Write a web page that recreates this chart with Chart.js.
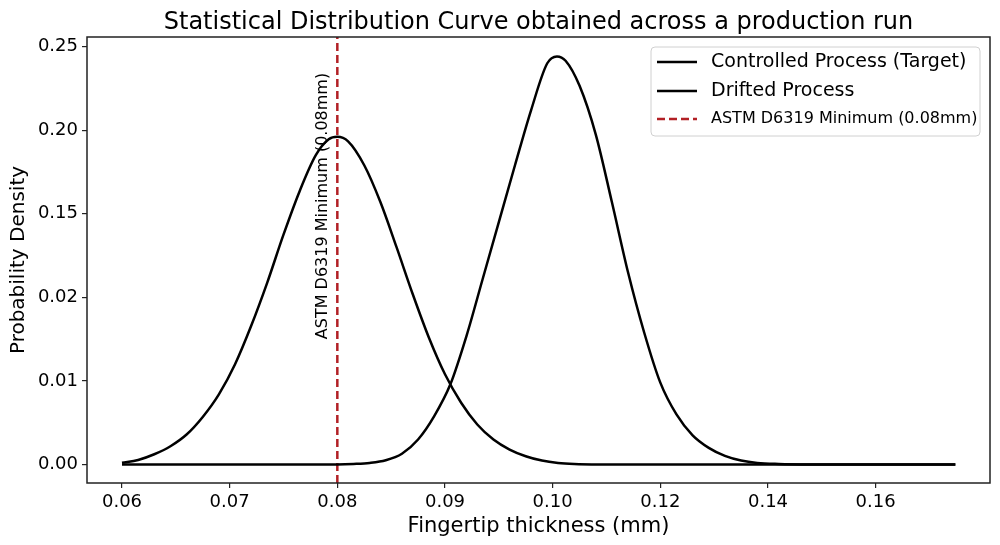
<!DOCTYPE html>
<html>
<head>
<meta charset="utf-8">
<script src="https://cdn.jsdelivr.net/npm/chart.js@4"></script>
<style>
  html, body { margin: 0; padding: 0; background: #fff; }
  canvas { display: block; }
</style>
</head>
<body>
<canvas id="grafico" width="1000" height="545"></canvas>
<script>
// textos
const titulo = 'Statistical Distribution Curve obtained across a production run';
const tituloX = 'Fingertip thickness (mm)';
const tituloY = 'Probability Density';
const rotulos = ['Controlled Process (Target)', 'Drifted Process', 'ASTM D6319 Minimum (0.08mm)'];
const textoLimite = 'ASTM D6319 Minimum (0.08mm)';

// ticks (posicao no eixo e o texto que aparece)
const xTicks = [0.06, 0.07, 0.08, 0.09, 0.10, 0.11, 0.12, 0.13];
const xTickLabels = ['0.06', '0.07', '0.08', '0.09', '0.10', '0.12', '0.14', '0.16'];
const yTicks = [0, 0.05, 0.10, 0.15, 0.20, 0.25];
const yTickLabels = ['0.00', '0.01', '0.02', '0.15', '0.20', '0.25'];
const xMin = 0.05675, xMax = 0.14062;
const yMin = -0.0110, yMax = 0.2557;

// limite ASTM
const limite = 0.08;

// processo controlado (curva da direita)
const ctrlX = [0.0600, 0.0700, 0.0760, 0.0800, 0.0815, 0.0830, 0.0845, 0.0860, 0.0875, 0.0890,
  0.0905, 0.0920, 0.0935, 0.0950, 0.0965, 0.0980, 0.0995, 0.1004, 0.1012, 0.1025,
  0.1040, 0.1055, 0.1070, 0.1085, 0.1100, 0.1115, 0.1130, 0.1145, 0.1160, 0.1175,
  0.1190, 0.1210, 0.1240, 0.1300, 0.1374];
const ctrlY = [0.0000, 0.0000, 0.0000, 0.0001, 0.0004, 0.0010, 0.0026, 0.0065, 0.0150, 0.0290,
  0.0480, 0.0770, 0.1110, 0.1450, 0.1790, 0.2120, 0.2400, 0.2441, 0.2415, 0.2265,
  0.1975, 0.1570, 0.1150, 0.0790, 0.0490, 0.0300, 0.0175, 0.0100, 0.0052, 0.0024,
  0.0010, 0.0004, 0.0001, 0.0000, 0.0000];

// processo com desvio (curva da esquerda)
const driftX = [0.0600, 0.0615, 0.0630, 0.0645, 0.0660, 0.0675, 0.0690, 0.0705, 0.0720, 0.0735,
  0.0750, 0.0765, 0.0780, 0.0792, 0.0800, 0.0810, 0.0825, 0.0840, 0.0855, 0.0870,
  0.0885, 0.0900, 0.0915, 0.0930, 0.0945, 0.0960, 0.0975, 0.0990, 0.1005, 0.1020,
  0.1050, 0.1100, 0.1200, 0.1374];
const driftY = [0.0011, 0.0028, 0.0062, 0.0110, 0.0180, 0.0285, 0.0420, 0.0600, 0.0830, 0.1090,
  0.1375, 0.1635, 0.1850, 0.1945, 0.1960, 0.1933, 0.1790, 0.1570, 0.1300, 0.1020,
  0.0760, 0.0540, 0.0370, 0.0240, 0.0150, 0.0090, 0.0050, 0.0024, 0.0010, 0.0004,
  0.0001, 0.0000, 0.0000, 0.0000];

const fonte = '"DejaVu Sans", sans-serif';
const vermelho = '#b22025';

const pontos = (xs, ys) => xs.map((x, i) => ({ x: x, y: ys[i] }));

// desenha moldura, titulo, texto vertical e legenda
const extras = {
  id: 'extras',
  afterDraw(chart) {
    const ctx = chart.ctx;
    const a = chart.chartArea;
    ctx.save();
    ctx.strokeStyle = '#222';
    ctx.lineWidth = 1.5;
    ctx.strokeRect(a.left, a.top, a.right - a.left, a.bottom - a.top);

    ctx.fillStyle = '#000';
    ctx.font = '24px ' + fonte;
    ctx.textAlign = 'center';
    ctx.textBaseline = 'alphabetic';
    ctx.fillText(titulo, (a.left + a.right) / 2, 28.5);

    const xl = chart.scales.x.getPixelForValue(limite);
    ctx.save();
    ctx.translate(xl - 14, 206);
    ctx.rotate(-Math.PI / 2);
    ctx.font = '16px ' + fonte;
    ctx.textBaseline = 'middle';
    ctx.fillText(textoLimite, 0, 0);
    ctx.restore();

    // legenda
    const bx = 651, by = 47, bw = 329, bh = 89;
    ctx.beginPath();
    ctx.roundRect(bx, by, bw, bh, 4);
    ctx.fillStyle = 'rgba(255,255,255,0.85)';
    ctx.fill();
    ctx.strokeStyle = '#d0d0d0';
    ctx.lineWidth = 1;
    ctx.stroke();
    const linhas = [62, 91, 119];
    chart.data.datasets.forEach((ds, i) => {
      const y = linhas[i];
      ctx.beginPath();
      ctx.setLineDash(ds.borderDash || []);
      ctx.strokeStyle = ds.borderColor;
      ctx.lineWidth = ds.borderWidth;
      ctx.moveTo(657, y);
      ctx.lineTo(697, y);
      ctx.stroke();
      ctx.setLineDash([]);
      ctx.fillStyle = '#000';
      ctx.font = (i < 2 ? '19px ' : '16px ') + fonte;
      ctx.textAlign = 'left';
      ctx.textBaseline = 'middle';
      ctx.fillText(ds.label, 711, y);
    });
    ctx.restore();
  }
};

new Chart(document.getElementById('grafico').getContext('2d'), {
  type: 'line',
  data: {
    datasets: [
      {
        label: rotulos[0],
        data: pontos(ctrlX, ctrlY),
        borderColor: '#000',
        borderWidth: 2.5,
        pointRadius: 0,
        cubicInterpolationMode: 'monotone',
        fill: false
      },
      {
        label: rotulos[1],
        data: pontos(driftX, driftY),
        borderColor: '#000',
        borderWidth: 2.5,
        pointRadius: 0,
        cubicInterpolationMode: 'monotone',
        fill: false
      },
      {
        label: rotulos[2],
        data: [{ x: limite, y: yMin }, { x: limite, y: yMax }],
        borderColor: vermelho,
        borderWidth: 2.5,
        borderDash: [8, 4],
        pointRadius: 0,
        fill: false
      }
    ]
  },
  options: {
    responsive: false,
    animation: false,
    devicePixelRatio: 1,
    layout: { padding: { left: 0, right: 10, top: 37, bottom: 0 } },
    plugins: {
      legend: { display: false },
      title: { display: false },
      tooltip: { enabled: false }
    },
    scales: {
      x: {
        type: 'linear',
        min: xMin,
        max: xMax,
        afterBuildTicks: s => { s.ticks = xTicks.map(v => ({ value: v })); },
        afterFit: s => { s.height = 62; },
        ticks: {
          color: '#000',
          font: { family: fonte, size: 18 },
          padding: 4,
          maxRotation: 0,
          callback: (v, i) => xTickLabels[i]
        },
        grid: { drawOnChartArea: false, drawTicks: true, tickLength: 5, color: '#222', lineWidth: 1.2 },
        border: { display: false },
        title: { display: true, text: tituloX, color: '#000', font: { family: fonte, size: 21 }, padding: { top: 0, bottom: 6 } }
      },
      y: {
        type: 'linear',
        min: yMin,
        max: yMax,
        afterBuildTicks: s => { s.ticks = yTicks.map(v => ({ value: v })); },
        afterFit: s => { s.width = 87; },
        ticks: {
          color: '#000',
          font: { family: fonte, size: 18 },
          padding: 4,
          callback: (v, i) => yTickLabels[i]
        },
        grid: { drawOnChartArea: false, drawTicks: true, tickLength: 5, color: '#222', lineWidth: 1.2 },
        border: { display: false },
        title: { display: true, text: tituloY, color: '#000', font: { family: fonte, size: 20 }, padding: { top: 7, bottom: 0 } }
      }
    }
  },
  plugins: [extras]
});
</script>
</body>
</html>
